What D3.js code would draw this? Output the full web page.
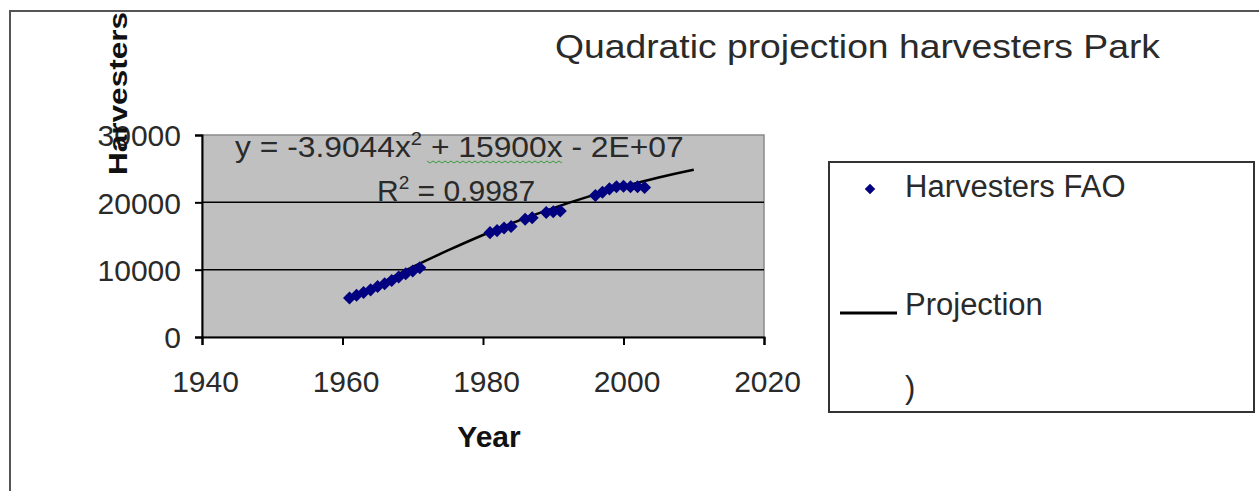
<!DOCTYPE html>
<html><head><meta charset="utf-8">
<script src="https://cdn.jsdelivr.net/npm/d3@7"></script>
<style>body{margin:0;background:#fff}svg{display:block}text{font-family:"Liberation Sans",Arial,sans-serif}</style>
</head><body><svg id="c" width="1259" height="491"></svg>
<script>
// ---- data ----
const obsYears  = [1961,1962,1963,1964,1965,1966,1967,1968,1969,1970,1971,
                   1981,1982,1983,1984,1986,1987,1989,1990,1991,
                   1996,1997,1998,1999,2000,2001,2002,2003];
const obsValues = [5800,6200,6600,7000,7500,7900,8400,8900,9400,9800,10300,
                   15500,15800,16200,16400,17500,17700,18500,18600,18700,
                   21000,21500,22000,22300,22400,22300,22300,22200];
const projYears  = [1961,1965,1970,1975,1980,1985,1990,1995,2000,2005,2010];
const projValues = [5400,7700,10400,12850,15150,17250,19150,20850,22350,23700,24850];
const xTicks = [1940,1960,1980,2000,2020];
const yTicks = [0,10000,20000,30000];
const title = "Quadratic projection harvesters Park";
const legendLabels = ["Harvesters FAO","Projection",")"];

const svg = d3.select("#c");
const font = "Liberation Sans, Arial, sans-serif";
// outer frame
svg.append("path").attr("d","M10,500 L10,11 L1265,11").attr("fill","none").attr("stroke","#555").attr("stroke-width",2);

const x = d3.scaleLinear().domain([1940,2020]).range([202,764]);
const y = d3.scaleLinear().domain([0,30000]).range([337,135]);

svg.append("rect").attr("x",x(1940)).attr("y",y(30000)).attr("width",x(2020)-x(1940)).attr("height",y(0)-y(30000))
  .attr("fill","#c0c0c0").attr("stroke","#8a8a8a").attr("stroke-width",1.5);

svg.append("g").selectAll("line").data(yTicks.filter(d=>d>0 && d<30000)).join("line")
  .attr("x1",x(1940)).attr("x2",x(2020)).attr("y1",d=>y(d)).attr("y2",d=>y(d)).attr("stroke","#000").attr("stroke-width",1.5);

const xa = svg.append("g").attr("transform",`translate(0,${y(0)})`)
  .call(d3.axisBottom(x).tickValues(xTicks).tickFormat(d3.format("d")).tickSize(8).tickPadding(8));
const ya = svg.append("g").attr("transform",`translate(${x(1940)},0)`)
  .call(d3.axisLeft(y).tickValues(yTicks).tickFormat(d3.format("d")).tickSize(7).tickPadding(14));
[xa,ya].forEach(a=>{a.select(".domain").attr("stroke","#000").attr("stroke-width",2);
  a.selectAll(".tick line").attr("stroke","#000").attr("stroke-width",2);
  a.selectAll("text").attr("font-size",30).attr("fill","#2a2a2a").attr("font-family",font);});
xa.selectAll("text").attr("dy","0").attr("y",55).attr("dx",3);
ya.selectAll("text").attr("dy","0.36em");

// projection line
svg.append("path").datum(projYears.map((d,i)=>[d,projValues[i]]))
  .attr("d",d3.line().x(d=>x(d[0])).y(d=>y(d[1])).curve(d3.curveMonotoneX))
  .attr("fill","none").attr("stroke","#000").attr("stroke-width",2.5);

// square diamond symbol
const diamond = {draw(ctx,size){const r=Math.sqrt(size)/2;ctx.moveTo(0,-r);ctx.lineTo(r,0);ctx.lineTo(0,r);ctx.lineTo(-r,0);ctx.closePath();}};

// observations
svg.append("g").selectAll("path").data(obsYears.map((d,i)=>[d,obsValues[i]])).join("path")
  .attr("d",d3.symbol(diamond,170)())
  .attr("transform",d=>`translate(${x(d[0])},${y(d[1])})`).attr("fill","#000080");

// equation
const eqG = svg.append("g").attr("transform","translate(235,157) scale(1.06,1)");
const eq = eqG.append("text").attr("font-size",30).attr("fill","#2a2a2a");
eq.append("tspan").text("y = -3.9044x");
eq.append("tspan").attr("font-size",19).attr("dy",-12).text("2");
eq.append("tspan").attr("dy",12).text(" + 15900x - 2E+07");
const r2 = svg.append("text").attr("x",377).attr("y",201).attr("font-size",30).attr("fill","#2a2a2a");
r2.append("tspan").text("R");
r2.append("tspan").attr("font-size",19).attr("dy",-12).text("2");
r2.append("tspan").attr("dy",12).text(" = 0.9987");
// spell-check squiggle under "+ 15900x"
const sq = d3.range(427,563,3).map((v,i)=>[v, 161 + (i%2?2:0)]);
svg.append("path").attr("d",d3.line()(sq)).attr("fill","none").attr("stroke","#3c9a3c").attr("stroke-width",1);

// titles
svg.append("text").attr("x",555).attr("y",58).attr("font-size",34).attr("fill","#2a2a2a")
  .attr("textLength",605).attr("lengthAdjust","spacingAndGlyphs").text(title);
svg.append("text").attr("x",489).attr("y",447).attr("text-anchor","middle").attr("font-size",30).attr("font-weight","bold").attr("fill","#111").text("Year");
svg.append("text").attr("transform","translate(127,93.5) rotate(-90)").attr("text-anchor","middle").attr("font-size",26).attr("font-weight","bold").attr("fill","#111")
  .attr("textLength",163).attr("lengthAdjust","spacingAndGlyphs").text("Harvesters");

// legend
svg.append("rect").attr("x",829).attr("y",162).attr("width",425).attr("height",250).attr("fill","#fff").attr("stroke","#333").attr("stroke-width",2);
svg.append("path").attr("d",d3.symbol(diamond,110)()).attr("transform","translate(870,189)").attr("fill","#000080");
svg.append("line").attr("x1",840).attr("x2",897).attr("y1",313).attr("y2",313).attr("stroke","#000").attr("stroke-width",3);
svg.append("g").selectAll("text").data(legendLabels).join("text")
  .attr("x",905).attr("y",(d,i)=>[197,315,398][i]).attr("font-size",31).attr("fill","#2a2a2a").text(d=>d);
</script></body></html>
